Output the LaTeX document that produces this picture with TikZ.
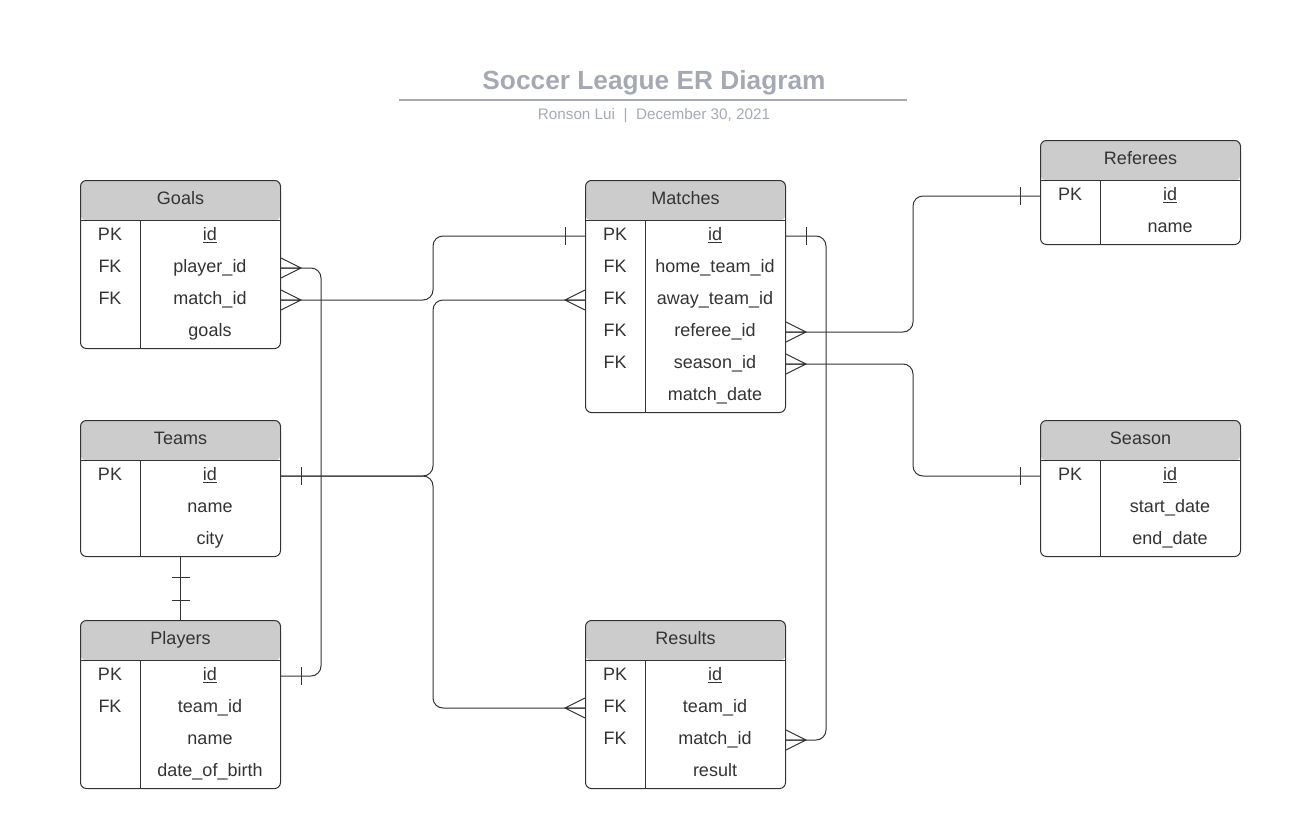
\documentclass[tikz,border=0pt]{standalone}
\usepackage{fontspec}
\setmainfont{Liberation Sans}
\usetikzlibrary{calc}

\definecolor{hdrfill}{HTML}{CCCCCC}
\definecolor{linec}{HTML}{333333}
\definecolor{ttlc}{HTML}{A4A9B4}

\tikzset{
  tbl/.style={draw=linec, line width=0.75pt, rounded corners=4.5pt, inner sep=0pt,
    minimum width=150pt, anchor=north west,
    path picture={\fill[hdrfill] (path picture bounding box.north west)
      rectangle ([yshift=-30pt]path picture bounding box.north east);}},
  rule/.style={draw=linec, line width=0.75pt},
  fld/.style={text=linec, font=\fontsize{13.5}{16}\selectfont, inner sep=0pt,
    text height=8.5pt, text depth=2pt},
  link/.style={draw=linec, line width=0.75pt, rounded corners=7.5pt},
  endline/.style={draw=linec, line width=0.75pt, sharp corners},
  many/.pic={\draw[endline] (0,-10) -- (20,0) -- (0,10) (0,0) -- (20,0);},
  one/.pic={\draw[endline] (20,-9) -- (20,9);}
}

% #1 name, #2 top left, #3 title, #4 number of rows, #5 key/field list
\newcommand{\ertable}[5]{
  \node[tbl, minimum height={(40+32*#4)*0.75pt}] (#1) at (#2) {};
  \node[fld] (#1-title) at ($(#1.north)+(0,20)$) {#3};
  \draw[rule] ($(#1.north west)+(0,40)$) -- ($(#1.north east)+(0,40)$);
  \draw[rule] ($(#1.north west)+(60,40)$) -- ($(#1.south west)+(60,0)$);
  \foreach \k/\f [count=\i] in {#5}{
    \node[fld] (#1-key\i) at ($(#1.north west)+(30,24+32*\i)$) {\k};
    \node[fld] (#1-\i) at ($(#1.north west)+(130,24+32*\i)$) {\f};
  }
}

\begin{document}
\begin{tikzpicture}[x=0.75pt,y=-0.75pt]
  \useasboundingbox (0,0) rectangle (1302,828);

  % title
  \node[anchor=base, text=ttlc, font=\fontsize{19.7}{23}\selectfont\bfseries, inner sep=0pt]
    (title) at (654,89) {Soccer League ER Diagram};
  \draw[ttlc, line width=1.5pt] (399,100) -- (907,100);
  \node[anchor=base, text=ttlc, font=\fontsize{11.45}{14}\selectfont, inner sep=0pt]
    (author) at (654,119.5) {Ronson Lui\ \ |\ \ December 30, 2021};

  % tables
  \ertable{goals}{80,180}{Goals}{4}{PK/\underline{id}, FK/player\_id, FK/match\_id, /goals}
  \ertable{teams}{80,420}{Teams}{3}{PK/\underline{id}, /name, /city}
  \ertable{players}{80,620}{Players}{4}{PK/\underline{id}, FK/team\_id, /name, /date\_of\_birth}
  \ertable{matches}{585,180}{Matches}{6}{PK/\underline{id}, FK/home\_team\_id, FK/away\_team\_id,
    FK/referee\_id, FK/season\_id, /match\_date}
  \ertable{results}{585,620}{Results}{4}{PK/\underline{id}, FK/team\_id, FK/match\_id, /result}
  \ertable{referees}{1040,140}{Referees}{2}{PK/\underline{id}, /name}
  \ertable{season}{1040,420}{Season}{3}{PK/\underline{id}, /start\_date, /end\_date}

  \coordinate (midL) at ($(goals.east)!0.5!(matches.west)$);
  \coordinate (midR) at ($(matches.east)!0.5!(referees.west)$);

  % relationships
  \draw[link] (goals.east |- goals-2) -- ++(40,0) |- (players.east |- players-1);
  \draw[link] (goals.east |- goals-3) -| (midL |- matches-1) -- (matches.west |- matches-1);
  \draw[link] (teams.east |- teams-1) -| (midL |- matches-3) -- (matches.west |- matches-3);
  \draw[link] (teams.east |- teams-1) -| (midL |- results-2) -- (results.west |- results-2);
  \draw[link] (matches.east |- matches-1) -- ++(40,0) |- (results.east |- results-3);
  \draw[link] (matches.east |- matches-4) -| (midR |- referees-1) -- (referees.west |- referees-1);
  \draw[link] (matches.east |- matches-5) -| (midR |- season-1) -- (season.west |- season-1);
  \draw[link] (teams.south) -- (players.north);

  % ends
  \pic at (goals.east |- goals-2) {many};
  \pic at (goals.east |- goals-3) {many};
  \pic[xscale=-1] at (matches.west |- matches-3) {many};
  \pic[xscale=-1] at (results.west |- results-2) {many};
  \pic at (matches.east |- matches-4) {many};
  \pic at (matches.east |- matches-5) {many};
  \pic at (results.east |- results-3) {many};
  \pic at (players.east |- players-1) {one};
  \pic at (teams.east |- teams-1) {one};
  \pic[xscale=-1] at (matches.west |- matches-1) {one};
  \pic at (matches.east |- matches-1) {one};
  \pic[xscale=-1] at (referees.west |- referees-1) {one};
  \pic[xscale=-1] at (season.west |- season-1) {one};
  \pic[rotate=-90] at (teams.south) {one};
  \pic[rotate=90] at (players.north) {one};
\end{tikzpicture}
\end{document}
